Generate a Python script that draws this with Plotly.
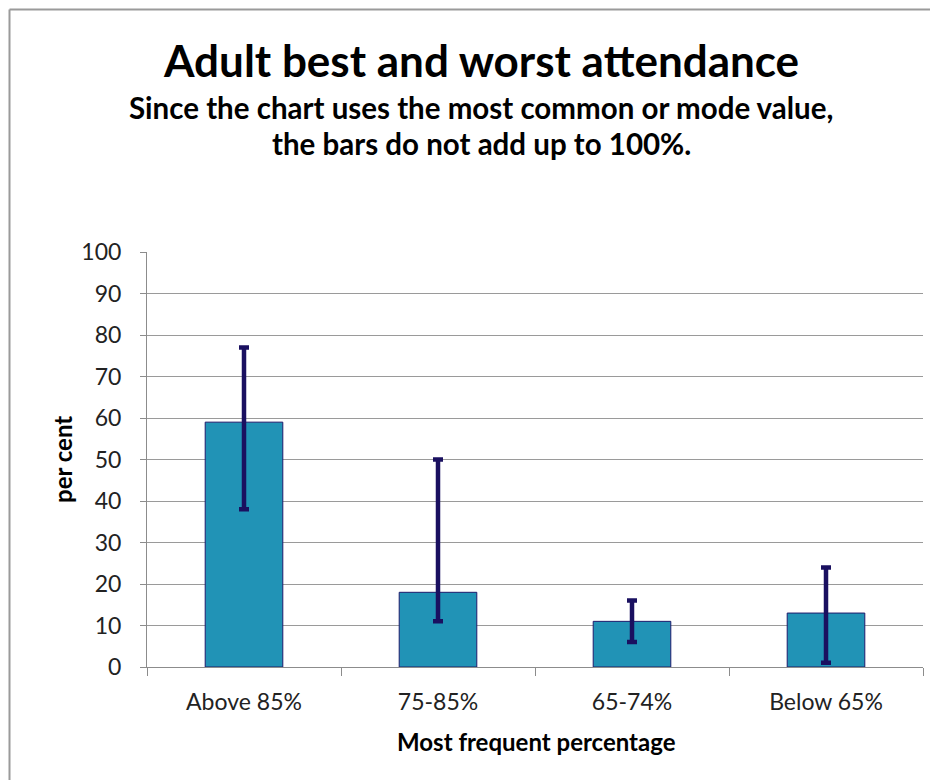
import plotly.graph_objects as go

categories = ["Above 85%", "75-85%", "65-74%", "Below 65%"]
mode_values = [59, 18, 11, 13]
best_values = [77, 50, 16, 24]
worst_values = [38, 11, 6, 1]

err_plus = [b - m for b, m in zip(best_values, mode_values)]
err_minus = [m - w for m, w in zip(mode_values, worst_values)]

OFF = 8  # page body margin
W, H = 938 - OFF, 780 - OFF
# plot area in screenshot pixels
PL, PR, PT, PB = 147, 923, 252, 667
L, T = PL - OFF, PT - OFF
R = W - (PR - OFF)
B = H - (PB - OFF)
pw, ph = W - L - R, H - T - B

def px(x):
    return (x - OFF - L) / pw

def py(y):
    return (H - B - (y - OFF)) / ph

FONT = "Lato"
BORDER = dict(color="#9a9a9a", width=2)

fig = go.Figure()
fig.add_trace(go.Bar(
    x=categories, y=mode_values, width=0.4,
    marker=dict(color="#2193b6", line=dict(color="#1f1a6b", width=1)),
    error_y=dict(type="data", symmetric=False, array=err_plus, arrayminus=err_minus,
                 color="#1a1060", thickness=4.5, width=5),
    showlegend=False,
))

fig.update_layout(
    width=W, height=H,
    margin=dict(l=L, r=R, t=T, b=B),
    paper_bgcolor="white", plot_bgcolor="white",
    font=dict(family=FONT, color="#111"),
    xaxis=dict(
        showgrid=False, showline=True, linecolor="#8c8c8c", linewidth=1,
        ticks="outside", tickson="boundaries", ticklen=8, tickcolor="#8c8c8c",
        tickfont=dict(size=23, family=FONT, color="#222"),
        ticklabelstandoff=14,
    ),
    yaxis=dict(
        range=[0, 100], dtick=10, showgrid=True, gridcolor="#9a9a9a", gridwidth=1,
        showline=True, linecolor="#8c8c8c", linewidth=1,
        ticks="outside", ticklen=6, tickcolor="#8c8c8c",
        tickfont=dict(size=23, family=FONT, color="#222"),
        ticklabelstandoff=14, zeroline=False,
    ),
    shapes=[
        dict(type="line", xref="paper", yref="paper",
             x0=px(9.5), x1=px(938), y0=py(9.5), y1=py(9.5), line=BORDER, layer="below"),
        dict(type="line", xref="paper", yref="paper",
             x0=px(9.5), x1=px(9.5), y0=py(9.5), y1=py(780), line=BORDER, layer="below"),
    ],
    annotations=[
        dict(text="<b>Adult best and worst attendance</b>", xref="paper", yref="paper",
             x=px(481), y=py(60), showarrow=False, font=dict(size=44, family=FONT, color="black"),
             xanchor="center", yanchor="middle"),
        dict(text="<b>Since the chart uses the most common or mode value,</b>", xref="paper", yref="paper",
             x=px(481), y=py(108), showarrow=False, font=dict(size=29.5, family=FONT, color="black"),
             xanchor="center", yanchor="middle"),
        dict(text="<b>the bars do not add up to 100%.</b>", xref="paper", yref="paper",
             x=px(481), y=py(143), showarrow=False, font=dict(size=29.5, family=FONT, color="black"),
             xanchor="center", yanchor="middle"),
        dict(text="<b>per cent</b>", xref="paper", yref="paper",
             x=px(62), y=py(460), showarrow=False, textangle=-90,
             font=dict(size=24, family=FONT, color="black"),
             xanchor="center", yanchor="middle"),
        dict(text="<b>Most frequent percentage</b>", xref="paper", yref="paper",
             x=px(536), y=py(741), showarrow=False,
             font=dict(size=24, family=FONT, color="black"),
             xanchor="center", yanchor="middle"),
    ],
)

fig.write_html("out.html")
